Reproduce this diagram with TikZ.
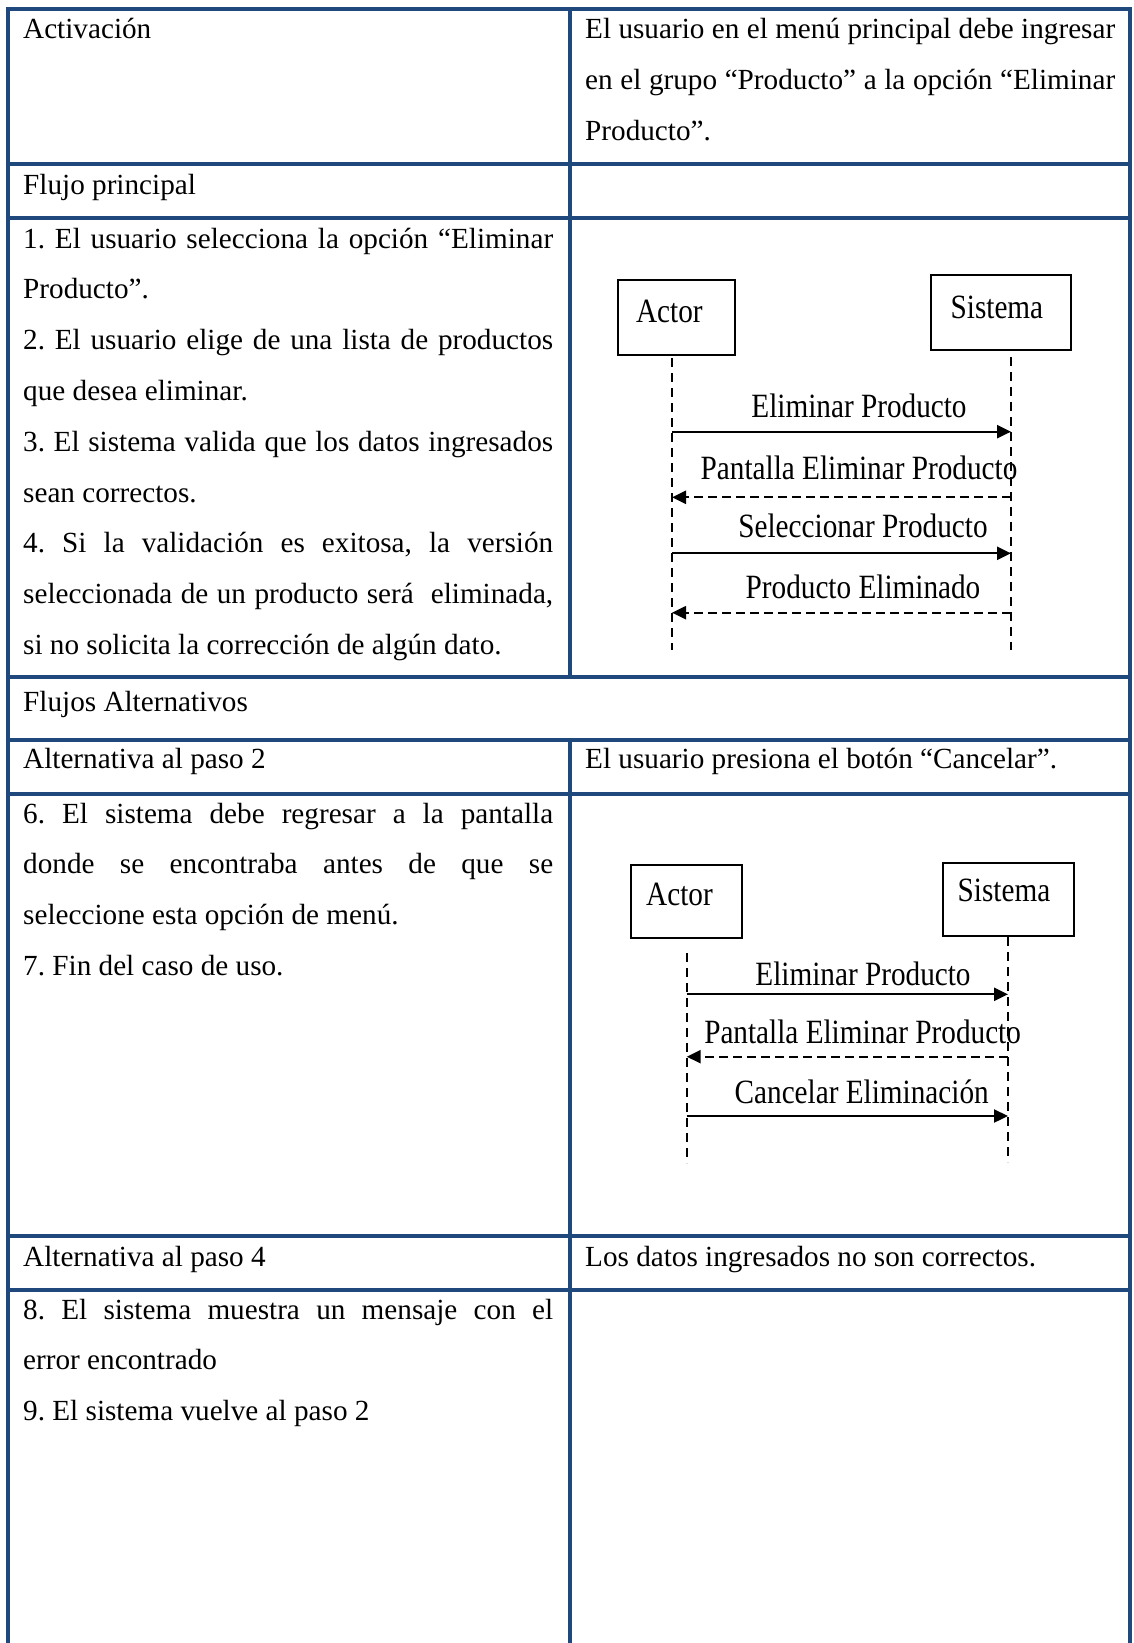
\documentclass[tikz,border=0pt]{standalone}
\usepackage{fontspec}
\setmainfont{Liberation Serif}
\newfontfamily\seqfont{Liberation Serif}[FakeStretch=0.86]
\usetikzlibrary{arrows.meta}
\definecolor{tblue}{HTML}{1F497D}

% table text and sequence-diagram text
\newcommand\tabfont{\fontsize{29.2}{50}\selectfont\frenchspacing}
\newcommand\seqtext{\seqfont\fontsize{34}{40}\selectfont}
% a justified line of the table text
\newcommand\jline[1]{\makebox[530pt][s]{#1}}

\begin{document}
\frenchspacing
\begin{tikzpicture}[x=1pt,y=-1pt,
  grid/.style={draw=tblue,line width=4pt,line cap=rect},
  txt/.style={anchor=base west,inner sep=0pt,font=\tabfont},
  seqbox/.style={draw=black,line width=2pt,inner sep=0pt},
  seqlbl/.style={anchor=base,inner sep=0pt,font=\seqtext},
  lifeline/.style={draw=black,line width=1.6pt,dash pattern=on 9pt off 6pt},
  callmsg/.style={line width=2.3pt,-{Triangle[length=14pt,width=13pt]}},
  replymsg/.style={line width=2.3pt,dash pattern=on 9pt off 5pt,-{Triangle[length=14pt,width=13pt]}}]

\fill[white] (0,0) rectangle (1133,1643);
\useasboundingbox (0,0) rectangle (1133,1643);

% ---- table rules ----
\draw[grid] (8,9) -- (8,1650);
\draw[grid] (1130,9) -- (1130,1650);
\foreach \yy in {9,164,218,677,739.5,794,1236,1290}
  \draw[grid] (8,\yy) -- (1130,\yy);
\draw[grid] (569.5,9) -- (569.5,677);
\draw[grid] (569.5,739.5) -- (569.5,1650);

% ---- Activación ----
\node[txt] (act) at (23,39) {Activación};
\node[txt] (actR1) at (585,39) {\jline{El usuario en el menú principal debe ingresar}};
\node[txt] (actR2) at (585,89.8) {\jline{en el grupo “Producto” a la opción “Eliminar}};
\node[txt] (actR3) at (585,140.6) {Producto”.};

% ---- Flujo principal ----
\node[txt] (fp) at (23,194) {Flujo principal};
\node[txt] (fp1) at (23,248) {\jline{1. El usuario selecciona la opción “Eliminar}};
\node[txt] (fp2) at (23,298.8) {Producto”.};
\node[txt] (fp3) at (23,349.6) {\jline{2. El usuario elige de una lista de productos}};
\node[txt] (fp4) at (23,400.4) {que desea eliminar.};
\node[txt] (fp5) at (23,451.2) {\jline{3. El sistema valida que los datos ingresados}};
\node[txt] (fp6) at (23,502) {sean correctos.};
\node[txt] (fp7) at (23,552.8) {\jline{4. Si la validación es exitosa, la versión}};
\node[txt] (fp8) at (23,603.6) {\jline{seleccionada de un producto será\ \ eliminada,}};
\node[txt] (fp9) at (23,654.4) {si no solicita la corrección de algún dato.};

% ---- Flujos alternativos ----
\node[txt] (fa) at (23,711) {Flujos Alternativos};
\node[txt] (alt2) at (23,768) {Alternativa al paso 2};
\node[txt] (alt2R) at (585,768) {El usuario presiona el botón “Cancelar”.};
\node[txt] (a21) at (23,823) {\jline{6. El sistema debe regresar a la pantalla}};
\node[txt] (a22) at (23,873.8) {\jline{donde se encontraba antes de que se}};
\node[txt] (a23) at (23,924.6) {seleccione esta opción de menú.};
\node[txt] (a24) at (23,975.4) {7. Fin del caso de uso.};

\node[txt] (alt4) at (23,1266) {Alternativa al paso 4};
\node[txt] (alt4R) at (585,1266) {Los datos ingresados no son correctos.};
\node[txt] (a41) at (23,1319) {\jline{8. El sistema muestra un mensaje con el}};
\node[txt] (a42) at (23,1369.8) {error encontrado};
\node[txt] (a43) at (23,1420.6) {9. El sistema vuelve al paso 2};

% ---- sequence diagram: main flow ----
\node[seqbox,minimum width=117pt,minimum height=75pt] (actorA) at (676.2,317.5) {};
\node[seqbox,minimum width=140pt,minimum height=75pt] (sistA) at (1000.8,312.5) {};
\node[seqlbl] (actorAt) at (669.4,322.7) {Actor};
\node[seqlbl] (sistAt) at (996.9,318.3) {Sistema};

\coordinate (laTop) at (672,358);
\coordinate (laBot) at (672,650);
\coordinate (lsTop) at (1011,357);
\coordinate (lsBot) at (1011,650);
\draw[lifeline] (laTop) -- (laBot);
\draw[lifeline] (lsTop) -- (lsBot);

\coordinate (m1a) at (672,431.7);  \coordinate (m1s) at (1011,431.7);
\coordinate (m2a) at (672,497.3);  \coordinate (m2s) at (1011,497.3);
\coordinate (m3a) at (672,553.3);  \coordinate (m3s) at (1011,553.3);
\coordinate (m4a) at (672,612.7);  \coordinate (m4s) at (1011,612.7);
\draw[callmsg] (m1a) -- (m1s);
\draw[replymsg] (m2s) -- (m2a);
\draw[callmsg] (m3a) -- (m3s);
\draw[replymsg] (m4s) -- (m4a);
\node[seqlbl] (m1l) at (859,417) {Eliminar Producto};
\node[seqlbl] (m2l) at (859,479) {Pantalla Eliminar Producto};
\node[seqlbl] (m3l) at (863,537.5) {Seleccionar Producto};
\node[seqlbl] (m4l) at (863,598.5) {Producto Eliminado};

% ---- sequence diagram: alternative to step 2 ----
\node[seqbox,minimum width=110.7pt,minimum height=73.3pt] (actorB) at (686.7,901.7) {};
\node[seqbox,minimum width=131pt,minimum height=72.4pt] (sistB) at (1008,899.5) {};
\node[seqlbl] (actorBt) at (679.5,905) {Actor};
\node[seqlbl] (sistBt) at (1004,901.7) {Sistema};

\coordinate (lbaTop) at (686.7,953);
\coordinate (lbaBot) at (686.7,1163);
\coordinate (lbsTop) at (1008,937);
\coordinate (lbsBot) at (1008,1162);
\draw[lifeline] (lbaTop) -- (lbaBot);
\draw[lifeline] (lbsTop) -- (lbsBot);

\coordinate (n1a) at (686.7,994.3);  \coordinate (n1s) at (1008,994.3);
\coordinate (n2a) at (686.7,1056.7); \coordinate (n2s) at (1008,1056.7);
\coordinate (n3a) at (686.7,1116);   \coordinate (n3s) at (1008,1116);
\draw[callmsg] (n1a) -- (n1s);
\draw[replymsg] (n2s) -- (n2a);
\draw[callmsg] (n3a) -- (n3s);
\node[seqlbl] (n1l) at (863,985) {Eliminar Producto};
\node[seqlbl] (n2l) at (862.6,1043.3) {Pantalla Eliminar Producto};
\node[seqlbl] (n3l) at (861.7,1103.3) {Cancelar Eliminación};
\end{tikzpicture}
\end{document}
